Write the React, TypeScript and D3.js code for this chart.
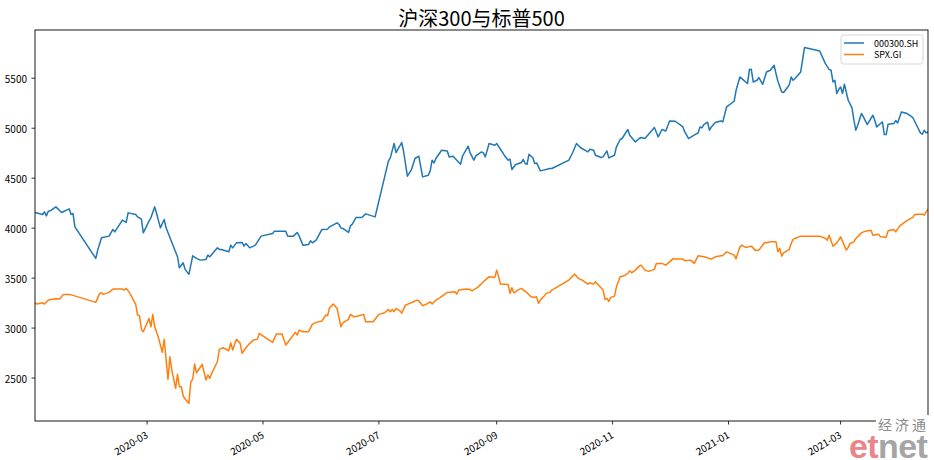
import React from 'react';
import * as d3 from 'd3';

// ---- data ----
const title = '沪深300与标普500';
const seriesNames = ['000300.SH', 'SPX.GI'];
const seriesColors = ['#1f77b4', '#ff7f0e'];
const baseDate = '2020-01-01'; // day index 0

// 000300.SH : day index (days since 2020-01-01) and close
const csiDays = [1,5,6,7,8,9,12,15,19,20,21,22,33,34,36,40,42,43,47,49,50,54,55,57,58,61,62,64,65,67,69,70,76,77,79,80,82,84,86,88,91,92,93,97,98,99,103,104,105,107,110,111,112,114,117,120,126,127,133,134,137,139,140,142,145,146,147,149,152,155,156,160,161,162,163,166,167,168,170,173,175,180,187,188,190,191,194,195,197,199,201,203,205,208,209,210,211,212,215,218,219,221,223,225,226,229,230,232,233,236,237,238,240,243,244,248,250,251,252,254,257,258,259,260,261,262,263,264,265,267,272,273,282,284,286,288,292,293,295,296,299,300,302,303,306,307,309,310,313,314,315,317,319,320,322,327,329,331,333,335,338,342,343,345,347,350,351,352,353,355,356,357,359,362,363,365,369,370,372,373,376,377,378,379,381,382,384,386,388,390,391,392,394,395,397,398,399,400,401,404,406,414,417,419,420,421,422,423,424,425,426,427,429,431,432,433,434,436,437,439,442,443,444,446,447,448,449,450,453,454,455,457,460,462,463,465,467,468,469,470,471];
const csiValues = [4157,4137,4163,4123,4170,4173,4213,4157,4193,4137,4147,4013,3697,3780,3903,3920,3987,3963,4080,4057,4153,4137,4113,4090,3953,4070,4103,4213,4147,4003,4087,4003,3713,3603,3653,3587,3537,3723,3697,3680,3687,3730,3713,3803,3787,3787,3763,3830,3803,3853,3857,3820,3847,3803,3830,3920,3947,3970,3970,3920,3920,3957,3923,3830,3837,3873,3853,3880,3987,3990,4013,4053,4037,4003,3997,3957,4023,4040,4107,4107,4143,4113,4670,4703,4847,4757,4857,4767,4520,4580,4697,4720,4513,4530,4573,4680,4653,4697,4780,4773,4713,4720,4680,4640,4720,4820,4753,4680,4723,4763,4753,4713,4847,4830,4847,4730,4680,4690,4587,4637,4657,4687,4647,4640,4740,4720,4707,4647,4653,4573,4597,4597,4680,4757,4847,4807,4763,4790,4780,4730,4707,4713,4773,4703,4730,4813,4887,4897,4987,4930,4907,4863,4897,4907,4897,5007,4913,4987,4973,5073,5070,5013,4963,4897,4920,4953,5013,5003,5037,5060,4980,5013,5057,5073,5063,5213,5270,5380,5513,5497,5447,5587,5590,5463,5480,5507,5440,5563,5580,5630,5547,5470,5363,5357,5407,5437,5513,5480,5497,5563,5807,5773,5647,5587,5580,5463,5480,5347,5387,5413,5347,5440,5280,5203,5080,4980,5030,5147,5113,5037,5130,5080,5013,5047,5063,4937,4937,5040,5047,5077,5053,5163,5147,5120,5107,5030,4953,4940,4980,4953,4963];

// SPX.GI : day index and close
const spxDays = [1,2,5,6,8,11,12,14,16,19,21,33,35,36,37,40,42,47,48,49,51,54,55,56,57,58,61,62,63,64,66,68,69,71,72,73,75,76,77,78,79,80,82,83,84,85,86,87,89,91,92,93,94,97,98,100,103,104,105,107,109,110,112,114,116,118,119,126,128,131,133,135,138,139,140,142,145,147,149,152,154,155,156,158,160,162,163,166,167,169,171,174,175,179,181,182,185,187,188,189,190,191,193,194,196,199,202,203,205,207,209,210,212,214,216,218,222,223,224,228,230,231,234,237,239,240,243,244,245,246,250,251,252,253,254,255,257,260,262,264,265,266,267,269,270,272,273,282,285,287,289,292,293,295,296,298,300,301,302,303,304,306,307,309,311,313,314,315,317,319,320,322,324,327,328,331,333,336,337,338,342,343,346,348,350,353,357,359,363,365,369,370,372,373,375,378,380,382,385,386,388,391,392,393,394,395,398,399,400,401,404,414,417,418,419,421,423,424,425,428,429,430,432,433,436,438,441,442,445,446,449,450,453,454,456,459,461,463,464,466,468,469,470,471];
const spxValues = [3253,3240,3253,3240,3280,3290,3293,3290,3337,3337,3327,3257,3347,3353,3337,3357,3390,3390,3380,3397,3347,3237,3130,3123,2987,2963,3097,3013,3137,3013,2903,2757,2887,2487,2713,2580,2397,2537,2413,2413,2320,2290,2247,2463,2487,2640,2553,2580,2637,2480,2530,2497,2547,2663,2787,2803,2773,2853,2780,2887,2847,2747,2803,2847,2880,2887,2947,2857,2940,2940,2830,2880,2957,2930,2980,2963,2963,3040,3057,3070,3130,3123,3203,3240,3197,3013,3053,3087,3137,3113,3120,3137,3063,3063,3113,3137,3153,3187,3163,3187,3163,3197,3173,3150,3230,3253,3280,3273,3223,3240,3263,3240,3280,3303,3330,3357,3363,3340,3380,3390,3387,3373,3407,3463,3497,3513,3507,3580,3513,3440,3437,3347,3403,3353,3363,3380,3397,3353,3313,3307,3313,3247,3280,3320,3347,3357,3380,3480,3540,3497,3480,3440,3453,3440,3463,3420,3380,3287,3297,3267,3307,3320,3413,3513,3523,3547,3573,3553,3580,3620,3630,3580,3567,3587,3647,3647,3630,3680,3697,3690,3690,3673,3680,3647,3723,3713,3690,3713,3727,3763,3730,3693,3813,3830,3807,3820,3780,3780,3857,3853,3863,3863,3763,3797,3720,3753,3787,3847,3887,3897,3920,3920,3897,3880,3930,3820,3853,3880,3913,3780,3807,3847,3863,3897,3953,3970,3980,3930,3940,3913,3910,3973,3987,3963,4020,4063,4087,4107,4137,4140,4140,4130,4163,4187];

const yTicks = [2500, 3000, 3500, 4000, 4500, 5000, 5500];
const yDomain = [2070, 5983];
const xTickLabels = ['2020-03', '2020-05', '2020-07', '2020-09', '2020-11', '2021-01', '2021-03'];
const watermarkTop = '经济通';
const watermarkA = 'et';
const watermarkB = 'net';

// ---- layout ----
const W = 934;
const H = 460;
const M = { left: 35, right: 928, top: 30, bottom: 421 };
const FONT = '"Noto Sans CJK SC", "DejaVu Sans", sans-serif';

export default function App() {
  const parse = d3.timeParse('%Y-%m-%d');
  const base = parse(baseDate) as Date;
  const toDate = (n: number) => d3.timeDay.offset(base, n);

  const x = d3
    .scaleTime()
    .domain([toDate(csiDays[0]), toDate(csiDays[csiDays.length - 1])])
    .range([M.left, M.right]);
  const y = d3.scaleLinear().domain(yDomain).range([M.bottom, M.top]);

  const line = d3
    .line<[Date, number]>()
    .x((d) => x(d[0]))
    .y((d) => y(d[1]));

  const series = [
    csiDays.map((d, i) => [toDate(d), csiValues[i]] as [Date, number]),
    spxDays.map((d, i) => [toDate(d), spxValues[i]] as [Date, number]),
  ];

  const parseMonth = d3.timeParse('%Y-%m');
  const xTicks = xTickLabels.map((l) => ({ label: l, pos: x(parseMonth(l) as Date) }));

  const legX = 841;
  const legY = 35;

  return (
    <svg
      width={W}
      height={H}
      viewBox={`0 0 ${W} ${H}`}
      style={{ position: 'absolute', left: 0, top: 0, background: '#fff' }}
      fontFamily={FONT}
    >
      <rect x={0} y={0} width={W} height={H} fill="#fff" />
      <text x={(M.left + M.right) / 2} y={26} textAnchor="middle" fontSize={20} fill="#000">
        {title}
      </text>

      <defs>
        <clipPath id="plotclip">
          <rect x={M.left} y={M.top} width={M.right - M.left} height={M.bottom - M.top} />
        </clipPath>
      </defs>

      <g clipPath="url(#plotclip)">
        {series.map((s, i) => (
          <path
            key={i}
            d={line(s) || ''}
            fill="none"
            stroke={seriesColors[i]}
            strokeWidth={1.5}
            strokeLinejoin="round"
            strokeLinecap="square"
          />
        ))}
      </g>

      {/* frame */}
      <rect
        x={M.left}
        y={M.top}
        width={M.right - M.left}
        height={M.bottom - M.top}
        fill="none"
        stroke="#000"
        strokeWidth={0.9}
      />

      {/* y axis */}
      {yTicks.map((t) => (
        <g key={t}>
          <line x1={M.left - 3.5} x2={M.left} y1={y(t)} y2={y(t)} stroke="#000" strokeWidth={0.8} />
          <text x={M.left - 8} y={y(t)} textAnchor="end" dominantBaseline="central" fontSize={10} fill="#000">
            {t}
          </text>
        </g>
      ))}

      {/* x axis */}
      {xTicks.map((t) => (
        <g key={t.label}>
          <line x1={t.pos} x2={t.pos} y1={M.bottom} y2={M.bottom + 3.5} stroke="#000" strokeWidth={0.8} />
          <text
            transform={`translate(${t.pos - 3},${M.bottom + 8}) rotate(-30)`}
            textAnchor="end"
            dominantBaseline="hanging"
            fontSize={10}
            fill="#000"
          >
            {t.label}
          </text>
        </g>
      ))}

      {/* legend */}
      <rect x={legX} y={legY} width={82} height={29} rx={2.5} fill="#fff" fillOpacity={0.8} stroke="#cccccc" strokeWidth={0.8} />
      {seriesNames.map((n, i) => (
        <g key={n}>
          <line x1={legX + 3} x2={legX + 23} y1={legY + 8 + i * 11.5} y2={legY + 8 + i * 11.5} stroke={seriesColors[i]} strokeWidth={1.5} />
          <text x={legX + 33} y={legY + 8 + i * 11.5} dominantBaseline="central" fontSize={9} fill="#000">
            {n}
          </text>
        </g>
      ))}

      {/* watermark */}
      <rect x={876} y={415} width={58} height={45} fill="#fff" />
      <text x={878} y={430} fontSize={14} fill="#8a8a8a" letterSpacing={3}>
        {watermarkTop}
      </text>
      <text x={849} y={458} fontSize={34} fontWeight="bold" fontFamily='"Liberation Sans", Arial, sans-serif' letterSpacing={-0.6}>
        <tspan fill="#e8868c">{watermarkA}</tspan>
        <tspan fill="#a5a5a5">{watermarkB}</tspan>
      </text>
    </svg>
  );
}
